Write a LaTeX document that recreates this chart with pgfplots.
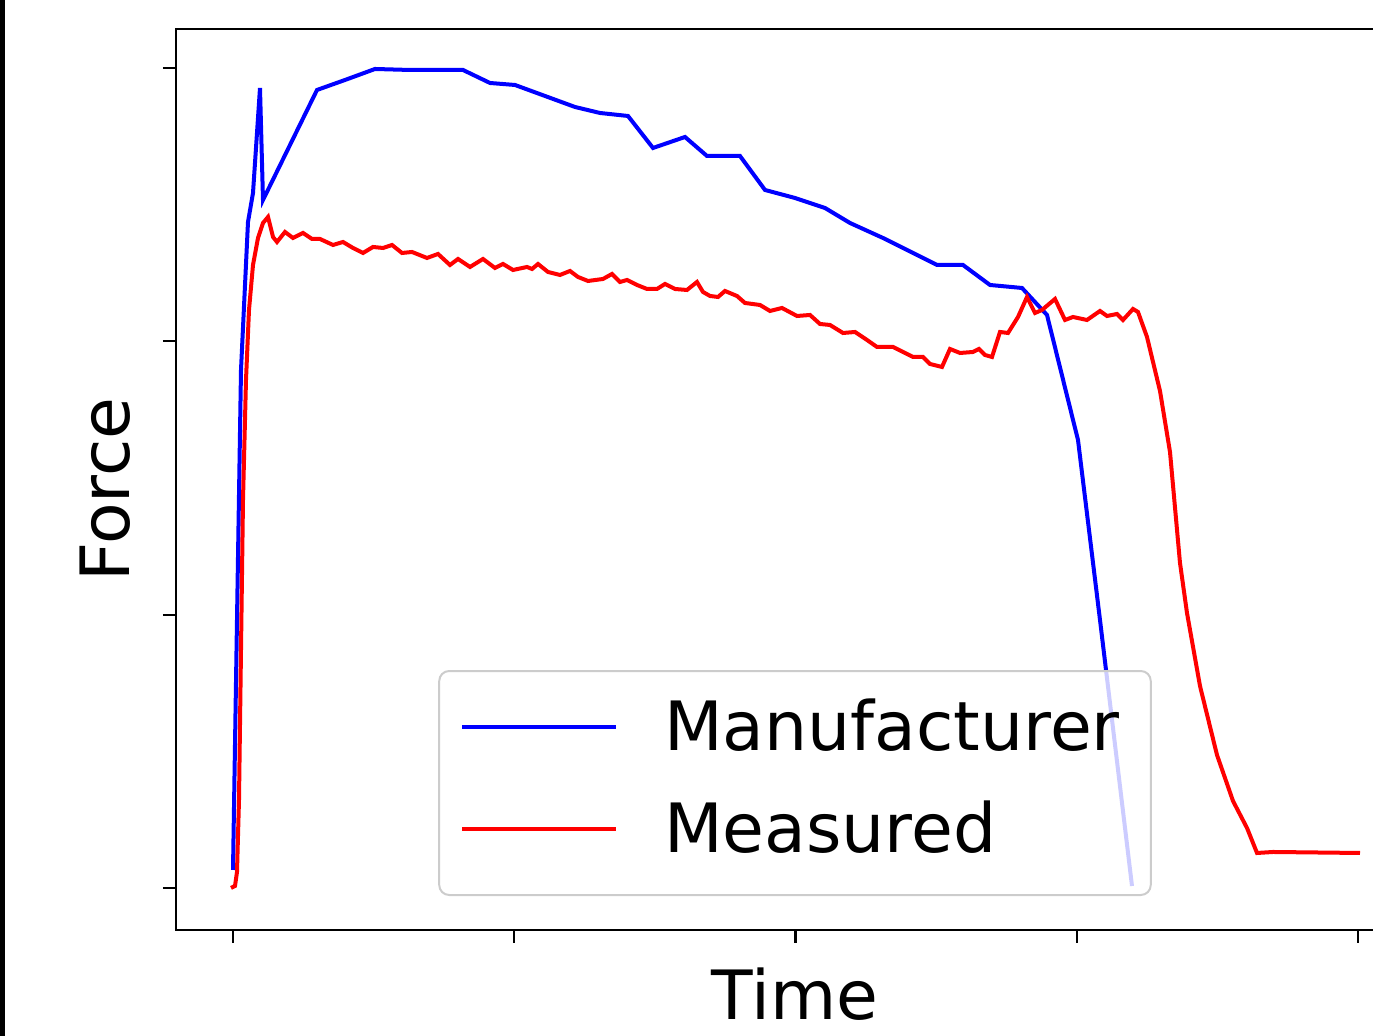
\documentclass[border=0pt]{standalone}
\usepackage{fontspec}
\setmainfont{DejaVu Sans}
\usepackage{pgfplots}
\pgfplotsset{compat=1.18}
\begin{document}
\begin{tikzpicture}
\begin{axis}[
  at={(0,0)}, anchor=south west,
  scale only axis, width=619pt, height=450.5pt,
  xmin=-57, xmax=1181, ymin=-42, ymax=859,
  xtick={0,281.25,562.5,843.75,1125},
  ytick={0,273.33,546.67,820},
  xticklabels={}, yticklabels={},
  tick pos=left, tick align=outside,
  major tick length=6.5pt,
  every tick/.style={black, line width=1.1pt},
  axis line style={line width=1.1pt},
  xlabel={Time}, ylabel={Force},
  label style={font=\fontsize{34}{40}\selectfont},
  xlabel style={at={(axis description cs:0.5,-0.0999)}, anchor=base},
  ylabel style={at={(axis description cs:-0.0372,0.489)}, anchor=base},
  legend style={at={(0.5,0.0377)}, anchor=south, draw=black!20, line width=1pt,
    rounded corners=5pt, fill=white, fill opacity=0.8, text opacity=1,
    inner xsep=15.5pt, inner ysep=13.5pt, row sep=17pt, column sep=23pt,
    font=\fontsize{34}{40}\selectfont,
    nodes={inner sep=0pt, text height=26pt, text depth=8pt},
    cells={anchor=west}},
  legend image code/.code={\draw[#1,line width=2pt,overlay] (-5pt,2.4pt) -- (67pt,2.4pt);
    \path (0pt,2.4pt) -- (72pt,2.4pt);},
]
\addplot[blue, line width=2pt] coordinates {
(0,18) (8,518) (15,666) (20,695) (27,800) (30,688) (84,798) (112,808) (142,819)
(177,818) (230,818) (257,805) (282,803) (312,792) (342,781) (367,775) (395,772)
(420,740) (452,751) (474,732) (507,732) (532,698) (562,690) (592,680) (617,665)
(650,650) (704,623) (730,623) (757,603) (789,600) (814,573) (845,448) (867,268) (899,2)
};
\addlegendentry{Manufacturer\hspace{5pt}}
\addplot[red, line width=2pt] coordinates {
(-2,0) (2,2) (4,16) (6,88) (8,238) (10,388) (13,508) (16,578) (20,623) (25,650)
(30,665) (35,671) (40,651) (44,646) (52,656) (60,650) (70,655) (79,649) (87,649)
(100,643) (110,646) (120,640) (130,635) (140,641) (150,640) (159,643) (169,635)
(179,636) (194,630) (205,634) (217,623) (225,629) (237,621) (250,629) (262,620)
(270,624) (280,618) (294,621) (299,619) (305,624) (315,616) (327,613) (337,617)
(345,611) (355,607) (370,609) (379,614) (387,606) (394,608) (404,603) (414,599)
(424,599) (432,604) (442,599) (454,598) (464,606) (470,596) (477,592) (485,591)
(492,597) (504,592) (512,585) (527,583) (537,577) (549,580) (564,572) (577,573)
(587,564) (597,563) (610,555) (622,556) (634,548) (644,541) (660,541) (680,531)
(690,531) (697,524) (709,521) (717,539) (727,535) (740,536) (746,539) (752,533)
(759,531) (767,556) (775,555) (785,571) (794,591) (802,575) (809,578) (822,589)
(832,568) (840,571) (854,568) (867,577) (874,572) (884,574) (890,568) (900,579)
(905,576) (914,551) (927,497) (937,436) (947,325) (954,275) (967,202) (984,133)
(1000,87) (1014,60) (1024,35) (1040,36) (1127,35)
};
\addlegendentry{Measured}
\end{axis}
\fill[black] (-88pt,-53pt) rectangle (-85.5pt,465pt);
\pgfresetboundingbox
\useasboundingbox (-88pt,-53pt) rectangle (598.5pt,465pt);
\end{tikzpicture}
\end{document}
